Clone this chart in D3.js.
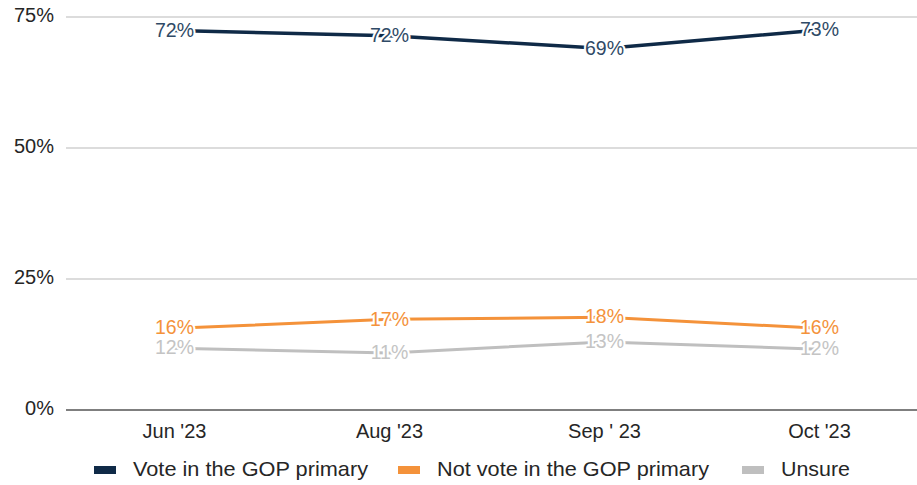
<!DOCTYPE html>
<html><head><meta charset="utf-8">
<script src="https://cdn.jsdelivr.net/npm/d3@7"></script>
<style>body{margin:0;background:#fff}svg{display:block;font-family:"Liberation Sans",Arial,sans-serif}</style>
</head><body><svg id="c" width="917" height="485"></svg>
<script>
const categories = ["Jun '23", "Aug '23", "Sep ' 23", "Oct '23"];
const voteGOP = [72.4, 71.4, 69.0, 72.5];
const notVoteGOP = [15.6, 17.3, 17.7, 15.6];
const unsure = [11.8, 10.9, 13.0, 11.6];
const voteLabels = ["72%", "72%", "69%", "73%"];
const notVoteLabels = ["16%", "17%", "18%", "16%"];
const unsureLabels = ["12%", "11%", "13%", "12%"];
const yTicks = [0, 25, 50, 75];
const seriesNames = ["Vote in the GOP primary", "Not vote in the GOP primary", "Unsure"];

const series = [
  {name: seriesNames[0], values: voteGOP, labels: voteLabels, color: "#0f2a47", labelColor: "#2f4a66", width: 3.5},
  {name: seriesNames[1], values: notVoteGOP, labels: notVoteLabels, color: "#f4923a", labelColor: "#f4923a", width: 3},
  {name: seriesNames[2], values: unsure, labels: unsureLabels, color: "#bfbfbf", labelColor: "#c4c4c4", width: 3}
];

const svg = d3.select("#c");
const x = d3.scaleBand().domain(categories).range([67, 927]);
const y = d3.scaleLinear().domain([0, 75]).range([410, 17]);
const cx = d => x(d) + x.bandwidth() / 2;

svg.append("g").selectAll("line").data(yTicks.filter(t => t > 0)).join("line")
  .attr("x1", 66).attr("x2", 917).attr("y1", d => y(d)).attr("y2", d => y(d))
  .attr("stroke", "#d0d0d0").attr("stroke-width", 1.3);

svg.append("g").selectAll("text").data(yTicks).join("text")
  .attr("x", 54).attr("y", d => y(d)).attr("text-anchor", "end")
  .attr("dominant-baseline", "middle").attr("font-size", 20).attr("fill", "#262626")
  .text(d => d + "%");

svg.append("line").attr("x1", 66).attr("x2", 917).attr("y1", y(0)).attr("y2", y(0))
  .attr("stroke", "#555").attr("stroke-width", 1.5);

svg.append("g").selectAll("text").data(categories).join("text")
  .attr("x", d => cx(d)).attr("y", 433).attr("text-anchor", "middle")
  .attr("dominant-baseline", "middle").attr("font-size", 20).attr("fill", "#262626")
  .text(d => d);

const line = d3.line().x((d, i) => cx(categories[i])).y(d => y(d));
series.forEach(s => {
  svg.append("path").datum(s.values).attr("d", line).attr("fill", "none")
    .attr("stroke", s.color).attr("stroke-width", s.width).attr("stroke-linejoin", "round");
});
series.forEach(s => {
  svg.append("g").selectAll("text").data(s.values).join("text")
    .attr("x", (d, i) => cx(categories[i])).attr("y", d => y(d) + 1)
    .attr("text-anchor", "middle").attr("dominant-baseline", "middle")
    .attr("font-size", 19.5).attr("fill", s.labelColor)
    .attr("stroke", "#fff").attr("stroke-width", 4).attr("stroke-linejoin", "round")
    .attr("paint-order", "stroke")
    .text((d, i) => s.labels[i]);
});

const legendX = [94, 398, 742];
const lg = svg.append("g").selectAll("g").data(series).join("g")
  .attr("transform", (d, i) => `translate(${legendX[i]},470)`);
lg.append("rect").attr("x", 0).attr("y", -4).attr("width", 22).attr("height", 8).attr("fill", d => d.color);
lg.append("text").attr("x", 39).attr("y", 0).attr("dominant-baseline", "middle")
  .attr("font-size", 21).attr("fill", "#262626")
  .attr("textLength", (d, i) => [235, 272, 69][i]).attr("lengthAdjust", "spacingAndGlyphs")
  .text(d => d.name);
</script></body></html>
